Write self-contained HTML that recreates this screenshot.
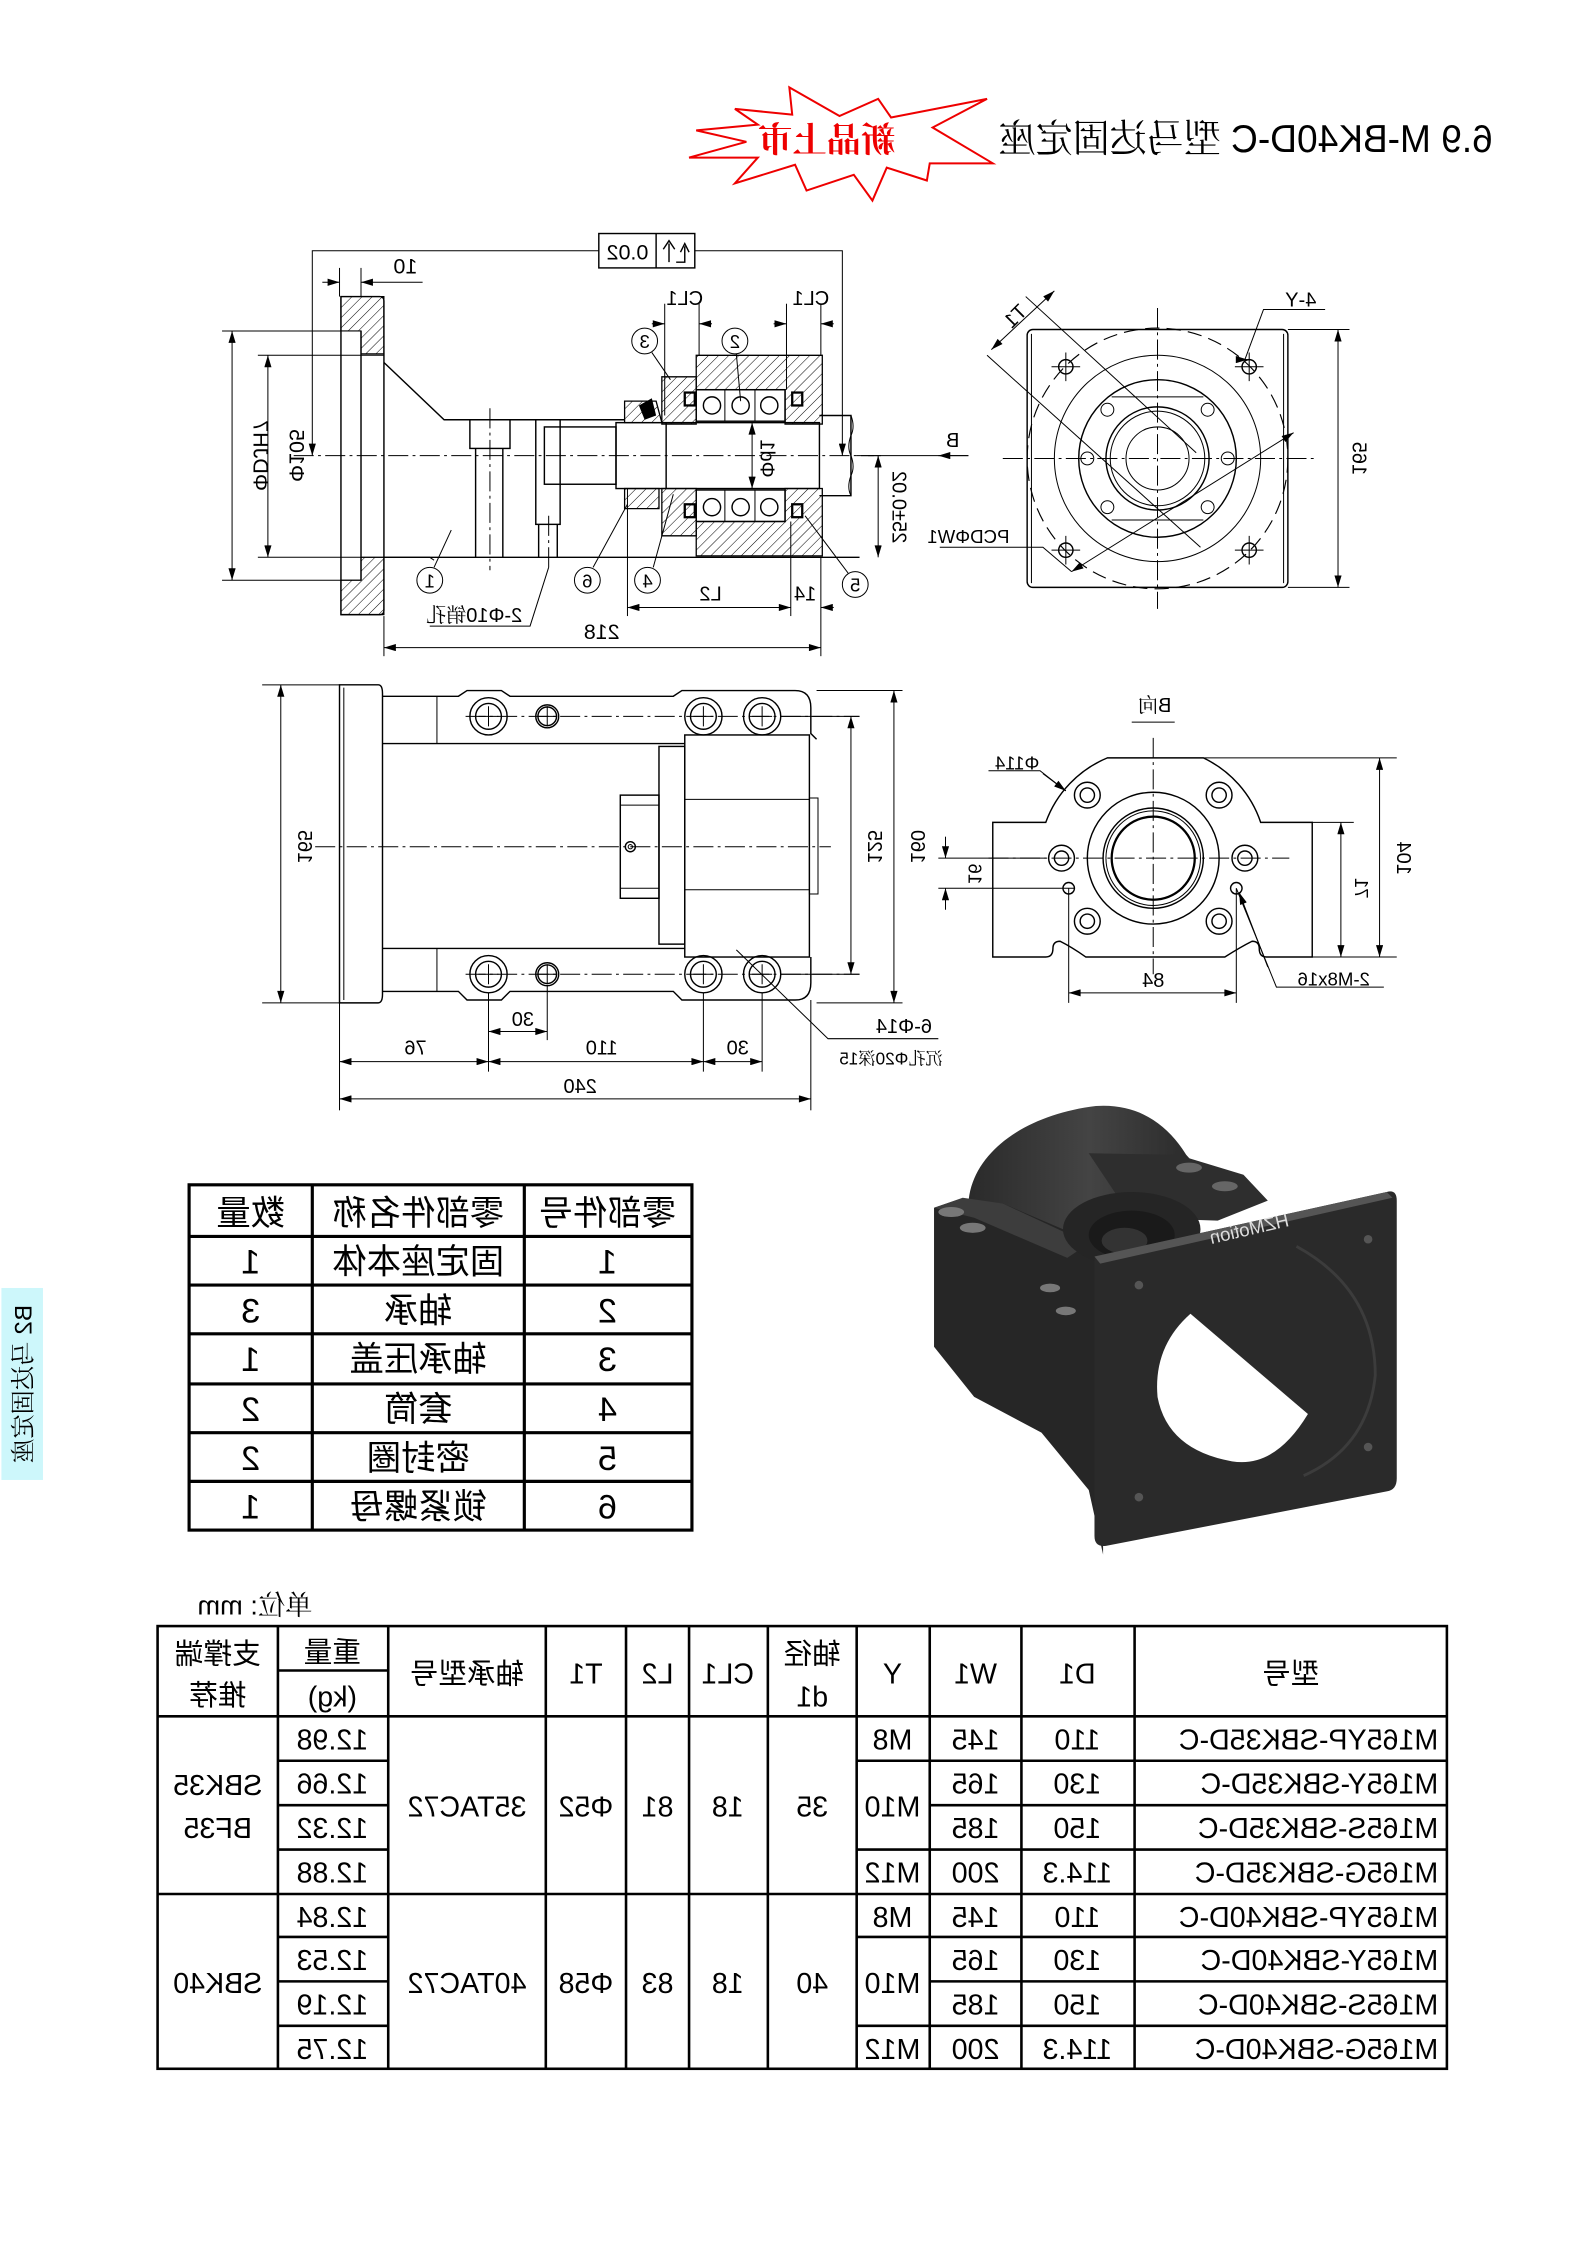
<!DOCTYPE html>
<html><head><meta charset="utf-8"><style>
html,body{margin:0;padding:0;background:#fff;}
svg{display:block;}
text{font-family:"Liberation Sans","Noto Sans CJK SC",sans-serif;fill:#000;text-anchor:middle;}
.cj{font-family:"Liberation Sans","Noto Serif CJK SC","Noto Sans CJK SC",sans-serif;}
.l{stroke:#000;stroke-width:1;fill:none;}
.t{stroke:#000;stroke-width:0.7;fill:none;}
.c{stroke:#000;stroke-width:0.7;fill:none;stroke-dasharray:14 3 2 3;}
.d{stroke:#000;stroke-width:0.8;fill:none;stroke-dasharray:10 5;}
.g{stroke:#000;stroke-width:1.6;fill:none;}
</style></head><body>
<svg width="1588" height="2245" viewBox="0 0 1108.5 1567" preserveAspectRatio="none" xmlns="http://www.w3.org/2000/svg">
<defs>
<pattern id="h" width="5" height="5" patternUnits="userSpaceOnUse" patternTransform="rotate(45)">
<line x1="0" y1="0" x2="0" y2="5" stroke="#000" stroke-width="0.7"/></pattern>
<marker id="a" viewBox="0 0 10 6" refX="10" refY="3" markerWidth="9" markerHeight="5" orient="auto-start-reverse" markerUnits="userSpaceOnUse"><path d="M0,0 L10,3 L0,6z" fill="#000"/></marker>
<linearGradient id="cy" x1="0" y1="0" x2="1" y2="0"><stop offset="0" stop-color="#2a2a2a"/><stop offset="0.5" stop-color="#444"/><stop offset="1" stop-color="#262626"/></linearGradient>
</defs>

<!-- title -->
<polygon points="551,61 586,81 613,69 622,82 689,69 651,89 693,114 649,114 647,126 619,117 609,140 596,122 563,133 555,115 513,128 529,110 481,110 521,99 486,91 529,87 513,76 553,80" fill="#fff" stroke="#e00" stroke-width="1.4"/>
<text class="cj" transform="translate(577,106) scale(-1,1)" font-size="24" style="fill:#e00" font-weight="bold">新品上市</text>
<text class="cj" transform="translate(1042,106) scale(-1,1)" font-size="27" style="text-anchor:start" textLength="345" lengthAdjust="spacingAndGlyphs">6.9 M-BK40D-C 型马达固定座</text>

<!-- side tab -->
<rect x="1" y="899" width="29" height="134" fill="#cdf7fb"/>
<text class="cj" transform="translate(22,966) rotate(90) scale(1,-1)" font-size="17">B2 马达固定座</text>

<!-- ========== TOP LEFT SECTION ========== -->
<rect x="418" y="163" width="67" height="24" class="l"/>
<line x1="458" y1="163" x2="458" y2="187" class="l"/>
<text transform="translate(438,181) scale(-1,1)" font-size="15">0.02</text>
<path d="M467,183 V170 M463,174 L467,168 L471,174 M472,183 H478 V172 M475,176 L478,170 L481,176" class="l"/>
<polyline points="418,175 218,175 218,318" class="t" marker-end="url(#a)"/>
<polyline points="485,175 588,175 588,318" class="t" marker-end="url(#a)"/>
<line x1="237" y1="187" x2="237" y2="207" class="t"/><line x1="252" y1="187" x2="252" y2="207" class="t"/>
<line x1="225" y1="197" x2="237" y2="197" class="t" marker-end="url(#a)"/>
<line x1="295" y1="197" x2="252" y2="197" class="t" marker-end="url(#a)"/>
<text transform="translate(283,191) scale(-1,1)" font-size="15">10</text>
<path d="M238,207 H265 Q268,207 268,210 V426 Q268,429 265,429 H238 Z" class="l"/>
<path d="M238,207 H268 V247 H252 V231 H238 Z" fill="url(#h)" stroke="#000" stroke-width="0.8"/>
<path d="M252,389 H268 V429 H238 V405 H252 Z" fill="url(#h)" stroke="#000" stroke-width="0.8"/>
<line x1="252" y1="231" x2="252" y2="405" class="l"/>
<line x1="155" y1="231" x2="252" y2="231" class="t"/><line x1="155" y1="405" x2="252" y2="405" class="t"/>
<line x1="180" y1="248" x2="268" y2="248" class="t"/><line x1="180" y1="389" x2="268" y2="389" class="t"/>
<line x1="162" y1="231" x2="162" y2="405" class="t" marker-start="url(#a)" marker-end="url(#a)"/>
<line x1="187" y1="248" x2="187" y2="389" class="t" marker-start="url(#a)" marker-end="url(#a)"/>
<text transform="translate(177,318) rotate(-90) scale(1,-1)" font-size="15">ΦDJH7</text>
<text transform="translate(202,318) rotate(-90) scale(1,-1)" font-size="15">Φ105</text>
<line x1="205" y1="318" x2="610" y2="318" class="c"/>
<polyline points="268,253 310,293 436,293" class="l"/>
<line x1="268" y1="389" x2="600" y2="389" class="l"/>
<polyline points="268,389 300,389 303,391" class="t"/>
<rect x="328" y="293" width="28" height="20" class="l"/>
<line x1="332" y1="313" x2="332" y2="389" class="l"/><line x1="351" y1="313" x2="351" y2="389" class="l"/>
<line x1="342" y1="285" x2="342" y2="398" class="c"/>
<rect x="374" y="293" width="17" height="73" class="l"/>
<line x1="376" y1="366" x2="376" y2="389" class="l"/><line x1="389" y1="366" x2="389" y2="389" class="l"/>
<line x1="383" y1="360" x2="383" y2="396" class="c"/>
<rect x="380" y="298" width="50" height="40" class="l"/>
<rect x="430" y="295" width="142" height="46" class="l"/>
<line x1="465" y1="295" x2="465" y2="341" class="l"/>
<path d="M572,290 H594 V346 H572" class="l"/>
<path d="M594,290 q3,8 0,14 q-3,8 0,14 q3,8 0,14 q-3,8 0,14" class="t"/>
<path d="M486,248 H574 V296 H548 V272 H486 Z" fill="url(#h)" stroke="#000" stroke-width="0.9"/>
<path d="M462,263 H486 V296 H462 Z" fill="url(#h)" stroke="#000" stroke-width="0.9"/>
<path d="M436,280 L458,280 L462,295 L436,295 Z" fill="url(#h)" stroke="#000" stroke-width="0.9"/>
<rect x="486" y="272" width="62" height="22" class="l"/>
<line x1="506" y1="272" x2="506" y2="294" class="t"/><line x1="527" y1="272" x2="527" y2="294" class="t"/>
<circle cx="497" cy="283" r="6" class="l"/><circle cx="517" cy="283" r="6" class="l"/><circle cx="537" cy="283" r="6" class="l"/>
<rect x="478" y="274" width="7" height="9" class="g"/><rect x="553" y="274" width="7" height="9" class="g"/>
<path d="M446,283 L455,278 L458,290 L450,293 Z" fill="#000"/>
<path d="M486,388 H574 V341 H548 V364 H486 Z" fill="url(#h)" stroke="#000" stroke-width="0.9"/>
<path d="M462,341 H486 V374 H462 Z" fill="url(#h)" stroke="#000" stroke-width="0.9"/>
<path d="M436,341 H460 V355 H436 Z" fill="url(#h)" stroke="#000" stroke-width="0.9"/>
<rect x="486" y="342" width="62" height="22" class="l"/>
<line x1="506" y1="342" x2="506" y2="364" class="t"/><line x1="527" y1="342" x2="527" y2="364" class="t"/>
<circle cx="497" cy="354" r="6" class="l"/><circle cx="517" cy="354" r="6" class="l"/><circle cx="537" cy="354" r="6" class="l"/>
<rect x="478" y="352" width="7" height="9" class="g"/><rect x="553" y="352" width="7" height="9" class="g"/>
<line x1="525" y1="295" x2="525" y2="341" class="t" marker-start="url(#a)" marker-end="url(#a)"/>
<text transform="translate(531,320) rotate(-90) scale(1,-1)" font-size="14">Φd1</text>
<line x1="464" y1="212" x2="464" y2="290" class="t"/><line x1="488" y1="212" x2="488" y2="248" class="t"/>
<line x1="455" y1="226" x2="464" y2="226" class="t" marker-end="url(#a)"/><line x1="497" y1="226" x2="488" y2="226" class="t" marker-end="url(#a)"/>
<text transform="translate(478,213) scale(-1,1)" font-size="14">CL1</text>
<line x1="549" y1="212" x2="549" y2="272" class="t"/><line x1="573" y1="212" x2="573" y2="248" class="t"/>
<line x1="540" y1="226" x2="549" y2="226" class="t" marker-end="url(#a)"/><line x1="582" y1="226" x2="573" y2="226" class="t" marker-end="url(#a)"/>
<text transform="translate(566,213) scale(-1,1)" font-size="14">CL1</text>
<g class="t">
<circle cx="450" cy="238" r="9"/><circle cx="513" cy="238" r="9"/>
<circle cx="300" cy="405" r="9"/><circle cx="410" cy="405" r="9"/><circle cx="452" cy="405" r="9"/><circle cx="597" cy="408" r="9"/>
<line x1="455" y1="246" x2="468" y2="265"/><line x1="514" y1="247" x2="517" y2="280"/>
<line x1="303" y1="396" x2="315" y2="370"/><line x1="414" y1="396" x2="438" y2="352"/>
<line x1="456" y1="396" x2="470" y2="345"/><line x1="592" y1="400" x2="562" y2="360"/>
<polyline points="383,396 370,437 300,437"/>
</g>
<g font-size="13">
<text transform="translate(450,243) scale(-1,1)">3</text><text transform="translate(513,243) scale(-1,1)">2</text>
<text transform="translate(300,410) scale(-1,1)">1</text><text transform="translate(410,410) scale(-1,1)">6</text>
<text transform="translate(452,410) scale(-1,1)">4</text><text transform="translate(597,413) scale(-1,1)">5</text>
</g>
<text class="cj" transform="translate(331,434) scale(-1,1)" font-size="14">2-Φ10销孔</text>
<line x1="268" y1="430" x2="268" y2="458" class="t"/><line x1="573" y1="389" x2="573" y2="458" class="t"/>
<line x1="268" y1="452" x2="573" y2="452" class="t" marker-start="url(#a)" marker-end="url(#a)"/>
<text transform="translate(420,446) scale(-1,1)" font-size="15">218</text>
<line x1="438" y1="341" x2="438" y2="430" class="t"/><line x1="552" y1="364" x2="552" y2="430" class="t"/>
<line x1="438" y1="424" x2="552" y2="424" class="t" marker-start="url(#a)" marker-end="url(#a)"/>
<line x1="582" y1="424" x2="573" y2="424" class="t" marker-end="url(#a)"/>
<text transform="translate(496,419) scale(-1,1)" font-size="14">L2</text>
<text transform="translate(562,419) scale(-1,1)" font-size="14">14</text>
<line x1="598" y1="318" x2="615" y2="318" class="t"/>
<line x1="613" y1="318" x2="613" y2="389" class="t" marker-start="url(#a)" marker-end="url(#a)"/>
<text transform="translate(623,354) rotate(-90) scale(1,-1)" font-size="14">25±0.02</text>
<line x1="606" y1="318" x2="676" y2="318" class="t"/>
<line x1="676" y1="318" x2="655" y2="318" class="t" marker-end="url(#a)"/>
<text transform="translate(665,312) scale(-1,1)" font-size="14">B</text>

<!-- ========== TOP RIGHT VIEW ========== -->
<rect x="717" y="230" width="182" height="180" rx="4" class="l"/>
<line x1="720" y1="233" x2="720" y2="407" class="t"/><line x1="896" y1="233" x2="896" y2="407" class="t"/>
<line x1="700" y1="320" x2="920" y2="320" class="c"/><line x1="808" y1="215" x2="808" y2="425" class="c"/>
<circle cx="808" cy="320" r="91" class="d"/>
<circle cx="808" cy="320" r="72" class="t"/>
<circle cx="808" cy="320" r="55" class="l"/>
<circle cx="808" cy="320" r="36" class="l"/>
<circle cx="808" cy="320" r="33" class="t"/>
<circle cx="808" cy="320" r="22" class="t"/>
<line x1="776" y1="277" x2="840" y2="277" class="t"/><line x1="776" y1="363" x2="840" y2="363" class="t"/>
<circle cx="773" cy="286" r="4.5" class="t"/><circle cx="843" cy="286" r="4.5" class="t"/>
<circle cx="773" cy="354" r="4.5" class="t"/><circle cx="843" cy="354" r="4.5" class="t"/>
<circle cx="759" cy="320" r="4.5" class="t"/><circle cx="857" cy="320" r="4.5" class="t"/>
<g class="l">
<circle cx="744" cy="256" r="5"/><circle cx="872" cy="256" r="5"/><circle cx="744" cy="384" r="5"/><circle cx="872" cy="384" r="5"/>
</g>
<g class="t">
<path d="M734,256 h20 M744,246 v20 M862,256 h20 M872,246 v20 M734,384 h20 M744,374 v20 M862,384 h20 M872,374 v20"/>
<line x1="689" y1="248" x2="838" y2="382"/>
<line x1="716" y1="207" x2="835" y2="316"/>
<line x1="692" y1="244" x2="736" y2="203" marker-start="url(#a)" marker-end="url(#a)"/>
<line x1="748" y1="399" x2="903" y2="302" marker-start="url(#a)" marker-end="url(#a)"/>
<polyline points="656,382 728,382 748,399"/>
<polyline points="925,216 882,216 869,251" />
<line x1="899" y1="230" x2="942" y2="230"/><line x1="899" y1="410" x2="942" y2="410"/>
<line x1="934" y1="230" x2="934" y2="410" marker-start="url(#a)" marker-end="url(#a)"/>
</g>
<line x1="869" y1="251" x2="871" y2="251" class="t" marker-end="url(#a)"/>
<text transform="translate(908,214) scale(-1,1)" font-size="14">4-Y</text>
<text transform="translate(712,224) rotate(-45) scale(-1,1)" font-size="14">T1</text>
<text transform="translate(676,379) scale(-1,1)" font-size="13">PCDΦW1</text>
<text transform="translate(944,320) rotate(-90) scale(1,-1)" font-size="14">165</text>

<!-- ========== MIDDLE LEFT VIEW ========== -->
<path d="M237,478 H264 Q267,478 267,484 V694 Q267,700 264,700 H237 Z" class="l"/>
<line x1="240" y1="480" x2="240" y2="698" class="t"/>
<path d="M267,486 H320 L326,482 H350 L356,486 H470 L476,482 H555 Q566,482 566,494 V512 L570,516" class="l"/>
<path d="M267,692 H320 L326,698 H350 L356,692 H470 L476,698 H555 Q566,698 566,686 V668" class="l"/>
<line x1="267" y1="519" x2="478" y2="519" class="l"/><line x1="267" y1="662" x2="478" y2="662" class="l"/>
<line x1="305" y1="486" x2="305" y2="519" class="t"/><line x1="305" y1="662" x2="305" y2="692" class="t"/>
<rect x="460" y="521" width="18" height="138" class="l"/>
<rect x="478" y="513" width="87" height="155" class="l"/>
<line x1="478" y1="558" x2="565" y2="558" class="t"/><line x1="478" y1="621" x2="565" y2="621" class="t"/>
<rect x="565" y="557" width="6" height="67" class="t"/>
<rect x="433" y="555" width="27" height="72" class="l"/>
<line x1="433" y1="562" x2="460" y2="562" class="t"/><line x1="433" y1="620" x2="460" y2="620" class="t"/>
<circle cx="440" cy="591" r="3.5" class="l"/><circle cx="440" cy="591" r="1.5" class="t"/>
<line x1="220" y1="591" x2="580" y2="591" class="c"/>
<line x1="325" y1="500" x2="600" y2="500" class="c"/><line x1="325" y1="680" x2="600" y2="680" class="c"/>
<g class="l">
<circle cx="341" cy="500" r="13"/><circle cx="341" cy="500" r="9"/><circle cx="382" cy="500" r="8"/><circle cx="382" cy="500" r="6.5"/>
<circle cx="491" cy="500" r="13"/><circle cx="491" cy="500" r="9"/><circle cx="532" cy="500" r="13"/><circle cx="532" cy="500" r="9"/>
<circle cx="341" cy="680" r="13"/><circle cx="341" cy="680" r="9"/><circle cx="382" cy="680" r="8"/><circle cx="382" cy="680" r="6.5"/>
<circle cx="491" cy="680" r="13"/><circle cx="491" cy="680" r="9"/><circle cx="532" cy="680" r="13"/><circle cx="532" cy="680" r="9"/>
</g>
<path class="t" d="M334,500h14M341,493v14M375,500h14M382,493v14M484,500h14M491,493v14M525,500h14M532,493v14M334,680h14M341,673v14M375,680h14M382,673v14M484,680h14M491,673v14M525,680h14M532,673v14"/>
<g class="t">
<line x1="183" y1="478" x2="237" y2="478"/><line x1="183" y1="700" x2="237" y2="700"/>
<line x1="196" y1="478" x2="196" y2="700" marker-start="url(#a)" marker-end="url(#a)"/>
<line x1="545" y1="500" x2="600" y2="500"/><line x1="545" y1="680" x2="600" y2="680"/>
<line x1="594" y1="500" x2="594" y2="680" marker-start="url(#a)" marker-end="url(#a)"/>
<line x1="570" y1="482" x2="630" y2="482"/><line x1="570" y1="700" x2="630" y2="700"/>
<line x1="624" y1="482" x2="624" y2="700" marker-start="url(#a)" marker-end="url(#a)"/>
<line x1="237" y1="700" x2="237" y2="775"/><line x1="341" y1="693" x2="341" y2="748"/>
<line x1="382" y1="688" x2="382" y2="726"/><line x1="491" y1="693" x2="491" y2="748"/>
<line x1="532" y1="693" x2="532" y2="748"/><line x1="566" y1="698" x2="566" y2="775"/>
<line x1="341" y1="720" x2="382" y2="720" marker-start="url(#a)" marker-end="url(#a)"/>
<line x1="237" y1="741" x2="341" y2="741" marker-start="url(#a)" marker-end="url(#a)"/>
<line x1="341" y1="741" x2="491" y2="741" marker-start="url(#a)" marker-end="url(#a)"/>
<line x1="491" y1="741" x2="532" y2="741" marker-start="url(#a)" marker-end="url(#a)"/>
<line x1="237" y1="767" x2="566" y2="767" marker-start="url(#a)" marker-end="url(#a)"/>
<polyline points="514,663 578,725 655,725"/>
</g>
<text transform="translate(208,591) rotate(-90) scale(1,-1)" font-size="14">165</text>
<text transform="translate(606,591) rotate(-90) scale(1,-1)" font-size="14">125</text>
<text transform="translate(636,591) rotate(-90) scale(1,-1)" font-size="14">160</text>
<text transform="translate(365,716) scale(-1,1)" font-size="14">30</text>
<text transform="translate(290,736) scale(-1,1)" font-size="14">76</text>
<text transform="translate(420,736) scale(-1,1)" font-size="14">110</text>
<text transform="translate(515,736) scale(-1,1)" font-size="14">30</text>
<text transform="translate(405,763) scale(-1,1)" font-size="14">240</text>
<text transform="translate(631,721) scale(-1,1)" font-size="14">6-Φ14</text>
<text class="cj" transform="translate(622,743) scale(-1,1)" font-size="12">沉孔Φ20深15</text>

<!-- ========== B VIEW ========== -->
<text class="cj" transform="translate(806,497) scale(-1,1)" font-size="14">B向</text>
<line x1="790" y1="504" x2="820" y2="504" class="t"/>
<path d="M773,529 H840 A77,77 0 0 1 880,574 H916 V668 H884 Q879,668 879,662 Q879,657 874,657 Q866,661 855,668 H758 Q748,661 740,657 Q735,657 735,662 Q735,668 730,668 H693 V574 H730 A77,77 0 0 1 773,529 Z" class="l"/>
<line x1="805" y1="515" x2="805" y2="680" class="c"/><line x1="690" y1="599" x2="900" y2="599" class="c"/>
<circle cx="805" cy="599" r="46" class="l"/><circle cx="805" cy="599" r="35" class="l"/><circle cx="805" cy="599" r="33" class="t"/><circle cx="805" cy="599" r="29" class="g"/>
<g class="l">
<circle cx="759" cy="555" r="9"/><circle cx="759" cy="555" r="5"/><circle cx="851" cy="555" r="9"/><circle cx="851" cy="555" r="5"/>
<circle cx="741" cy="599" r="9"/><circle cx="741" cy="599" r="5"/><circle cx="869" cy="599" r="9"/><circle cx="869" cy="599" r="5"/>
<circle cx="759" cy="643" r="9"/><circle cx="759" cy="643" r="5"/><circle cx="851" cy="643" r="9"/><circle cx="851" cy="643" r="5"/>
<circle cx="746" cy="620" r="4"/><circle cx="863" cy="620" r="4"/>
</g>
<g class="t">
<line x1="655" y1="599" x2="730" y2="599"/><line x1="655" y1="620" x2="750" y2="620"/>
<line x1="660" y1="584" x2="660" y2="599" marker-end="url(#a)"/><line x1="660" y1="635" x2="660" y2="620" marker-end="url(#a)"/>
<line x1="746" y1="620" x2="746" y2="700"/><line x1="863" y1="620" x2="863" y2="700"/>
<line x1="746" y1="693" x2="863" y2="693" marker-start="url(#a)" marker-end="url(#a)"/>
<line x1="916" y1="574" x2="945" y2="574"/><line x1="916" y1="668" x2="975" y2="668"/>
<line x1="840" y1="529" x2="975" y2="529"/>
<line x1="936" y1="574" x2="936" y2="668" marker-start="url(#a)" marker-end="url(#a)"/>
<line x1="963" y1="529" x2="963" y2="668" marker-start="url(#a)" marker-end="url(#a)"/>
<polyline points="966,689 891,689 863,620"/>
<polyline points="690,538 726,538 744,552"/>
</g>
<line x1="885" y1="675" x2="865" y2="623" class="t" marker-end="url(#a)"/>
<line x1="728" y1="540" x2="744" y2="552" class="t" marker-end="url(#a)"/>
<text transform="translate(676,610) rotate(-90) scale(1,-1)" font-size="13">16</text>
<text transform="translate(805,689) scale(-1,1)" font-size="14">84</text>
<text transform="translate(946,620) rotate(-90) scale(1,-1)" font-size="13">71</text>
<text transform="translate(975,599) rotate(-90) scale(1,-1)" font-size="14">104</text>
<text transform="translate(931,688) scale(-1,1)" font-size="13">2-M8x16</text>
<text transform="translate(710,537) scale(-1,1)" font-size="13">Φ114</text>

<!-- ========== 3D RENDER ========== -->
<path d="M676,840 C678,805 715,778 765,772 C795,770 815,785 828,806 L845,825 L800,862 L720,865 Z" fill="url(#cy)"/>
<path d="M760,805 L822,806 L868,820 L885,838 L850,852 L790,850 Z" fill="#2e2e2e"/>
<ellipse cx="830" cy="815" rx="9" ry="3.5" fill="#666"/><ellipse cx="855" cy="828" rx="9" ry="3.5" fill="#666"/>
<path d="M652,843 L670,837 L700,840 L770,870 L770,1085 L760,1040 L727,1000 L680,975 L652,940 Z" fill="#262626"/>
<path d="M652,843 L672,836 L700,840 L760,868 L745,878 L680,850 Z" fill="#3d3d3d"/>
<ellipse cx="664" cy="846" rx="9" ry="3.5" fill="#777"/><ellipse cx="679" cy="857" rx="9" ry="3.5" fill="#777"/>
<ellipse cx="733" cy="899" rx="7" ry="3" fill="#777"/><ellipse cx="744" cy="915" rx="7" ry="3" fill="#777"/>
<ellipse cx="790" cy="858" rx="48" ry="26" fill="#252525"/>
<ellipse cx="790" cy="862" rx="30" ry="17" fill="#1a1a1a"/>
<ellipse cx="785" cy="866" rx="16" ry="9" fill="#333"/>
<path d="M764,877 L968,832 Q975,830 975,838 L975,1032 Q975,1040 968,1041 L772,1079 Q764,1080 764,1072 Z" fill="#2a2a2a"/>
<path d="M764,877 L968,832 L972,836 L768,882 Z" fill="#555"/>
<path d="M831,917 L913,987 Q890,1025 860,1020 Q815,1012 808,975 Q805,940 831,917 Z" fill="#fff"/>
<path d="M905,870 Q960,900 960,960 Q955,1010 910,1030" fill="none" stroke="#3c3c3c" stroke-width="2"/>
<circle cx="795" cy="897" r="3" fill="#555"/><circle cx="955" cy="865" r="3" fill="#555"/>
<circle cx="955" cy="1010" r="3" fill="#555"/><circle cx="795" cy="1045" r="3" fill="#555"/>
<text transform="translate(873,862) rotate(-13) scale(-1,1)" font-size="13" style="fill:#ddd">HZMotion</text>

<!-- ========== PARTS TABLE ========== -->
<g stroke="#000" stroke-width="2.2" fill="none">
<rect x="132" y="827" width="351" height="241"/>
<line x1="218" y1="827" x2="218" y2="1068"/><line x1="366" y1="827" x2="366" y2="1068"/>
<line x1="132" y1="863" x2="483" y2="863"/><line x1="132" y1="897" x2="483" y2="897"/><line x1="132" y1="931" x2="483" y2="931"/>
<line x1="132" y1="966" x2="483" y2="966"/><line x1="132" y1="1000" x2="483" y2="1000"/><line x1="132" y1="1034" x2="483" y2="1034"/>
</g>
<g class="cj" font-size="24">
<text transform="translate(175,855) scale(-1,1)">数量</text>
<text transform="translate(292,855) scale(-1,1)">零部件名称</text>
<text transform="translate(424,855) scale(-1,1)">零部件号</text>
<text transform="translate(292,889) scale(-1,1)">固定座本体</text>
<text transform="translate(292,923) scale(-1,1)">轴承</text>
<text transform="translate(292,957) scale(-1,1)">轴承压盖</text>
<text transform="translate(292,992) scale(-1,1)">套筒</text>
<text transform="translate(292,1026) scale(-1,1)">密封圈</text>
<text transform="translate(292,1060) scale(-1,1)">锁紧螺母</text>
</g>
<g font-size="24">
<text transform="translate(175,889) scale(-1,1)">1</text><text transform="translate(175,923) scale(-1,1)">3</text>
<text transform="translate(175,957) scale(-1,1)">1</text><text transform="translate(175,992) scale(-1,1)">2</text>
<text transform="translate(175,1026) scale(-1,1)">2</text><text transform="translate(175,1060) scale(-1,1)">1</text>
<text transform="translate(424,889) scale(-1,1)">1</text><text transform="translate(424,923) scale(-1,1)">2</text>
<text transform="translate(424,957) scale(-1,1)">3</text><text transform="translate(424,992) scale(-1,1)">4</text>
<text transform="translate(424,1026) scale(-1,1)">5</text><text transform="translate(424,1060) scale(-1,1)">6</text>
</g>

<!-- ========== SPEC TABLE ========== -->
<text class="cj" transform="translate(218,1127) scale(-1,1)" font-size="19" style="text-anchor:start">单位: mm</text>
<g stroke="#000" stroke-width="1.8" fill="none">
<rect x="110" y="1135" width="900" height="309"/>
<line x1="194" y1="1135" x2="194" y2="1444"/><line x1="271" y1="1135" x2="271" y2="1444"/>
<line x1="381" y1="1135" x2="381" y2="1444"/><line x1="437" y1="1135" x2="437" y2="1444"/>
<line x1="481" y1="1135" x2="481" y2="1444"/><line x1="536" y1="1135" x2="536" y2="1444"/>
<line x1="598" y1="1135" x2="598" y2="1444"/><line x1="649" y1="1135" x2="649" y2="1444"/>
<line x1="713" y1="1135" x2="713" y2="1444"/><line x1="792" y1="1135" x2="792" y2="1444"/>
<line x1="194" y1="1166" x2="271" y2="1166"/>
<line x1="110" y1="1198" x2="1010" y2="1198"/>
<line x1="110" y1="1322" x2="1010" y2="1322"/>
<line x1="598" y1="1229" x2="1010" y2="1229"/><line x1="649" y1="1260" x2="1010" y2="1260"/><line x1="598" y1="1291" x2="1010" y2="1291"/>
<line x1="598" y1="1352" x2="1010" y2="1352"/><line x1="649" y1="1383" x2="1010" y2="1383"/><line x1="598" y1="1414" x2="1010" y2="1414"/>
<line x1="194" y1="1229" x2="271" y2="1229"/><line x1="194" y1="1260" x2="271" y2="1260"/><line x1="194" y1="1291" x2="271" y2="1291"/>
<line x1="194" y1="1352" x2="271" y2="1352"/><line x1="194" y1="1383" x2="271" y2="1383"/><line x1="194" y1="1414" x2="271" y2="1414"/>
</g>
<g class="cj" font-size="20">
<text transform="translate(152,1161) scale(-1,1)">支撑端</text>
<text transform="translate(152,1190) scale(-1,1)">推荐</text>
<text transform="translate(232,1160) scale(-1,1)">重量</text>
<text transform="translate(326,1175) scale(-1,1)">轴承型号</text>
<text transform="translate(567,1161) scale(-1,1)">轴径</text>
<text transform="translate(901,1175) scale(-1,1)">型号</text>
</g>
<g font-size="20">
<text transform="translate(232,1191) scale(-1,1)">(kg)</text>
<text transform="translate(409,1175) scale(-1,1)">T1</text>
<text transform="translate(459,1175) scale(-1,1)">L2</text>
<text transform="translate(508,1175) scale(-1,1)">CL1</text>
<text transform="translate(567,1191) scale(-1,1)">d1</text>
<text transform="translate(623,1175) scale(-1,1)">Y</text>
<text transform="translate(681,1175) scale(-1,1)">W1</text>
<text transform="translate(752,1175) scale(-1,1)">D1</text>
</g>
<g font-size="20">
<text transform="translate(1004,1221) scale(-1,1)" style="text-anchor:start">M165YP-SBK35D-C</text>
<text transform="translate(1004,1252) scale(-1,1)" style="text-anchor:start">M165Y-SBK35D-C</text>
<text transform="translate(1004,1283) scale(-1,1)" style="text-anchor:start">M165S-SBK35D-C</text>
<text transform="translate(1004,1314) scale(-1,1)" style="text-anchor:start">M165G-SBK35D-C</text>
<text transform="translate(1004,1345) scale(-1,1)" style="text-anchor:start">M165YP-SBK40D-C</text>
<text transform="translate(1004,1375) scale(-1,1)" style="text-anchor:start">M165Y-SBK40D-C</text>
<text transform="translate(1004,1406) scale(-1,1)" style="text-anchor:start">M165S-SBK40D-C</text>
<text transform="translate(1004,1437) scale(-1,1)" style="text-anchor:start">M165G-SBK40D-C</text>
<text transform="translate(752,1221) scale(-1,1)">110</text><text transform="translate(752,1252) scale(-1,1)">130</text>
<text transform="translate(752,1283) scale(-1,1)">150</text><text transform="translate(752,1314) scale(-1,1)">114.3</text>
<text transform="translate(752,1345) scale(-1,1)">110</text><text transform="translate(752,1375) scale(-1,1)">130</text>
<text transform="translate(752,1406) scale(-1,1)">150</text><text transform="translate(752,1437) scale(-1,1)">114.3</text>
<text transform="translate(681,1221) scale(-1,1)">145</text><text transform="translate(681,1252) scale(-1,1)">165</text>
<text transform="translate(681,1283) scale(-1,1)">185</text><text transform="translate(681,1314) scale(-1,1)">200</text>
<text transform="translate(681,1345) scale(-1,1)">145</text><text transform="translate(681,1375) scale(-1,1)">165</text>
<text transform="translate(681,1406) scale(-1,1)">185</text><text transform="translate(681,1437) scale(-1,1)">200</text>
<text transform="translate(623,1221) scale(-1,1)">M8</text><text transform="translate(623,1268) scale(-1,1)">M10</text>
<text transform="translate(623,1314) scale(-1,1)">M12</text>
<text transform="translate(623,1345) scale(-1,1)">M8</text><text transform="translate(623,1391) scale(-1,1)">M10</text>
<text transform="translate(623,1437) scale(-1,1)">M12</text>
<text transform="translate(567,1268) scale(-1,1)">35</text><text transform="translate(567,1391) scale(-1,1)">40</text>
<text transform="translate(508,1268) scale(-1,1)">18</text><text transform="translate(508,1391) scale(-1,1)">18</text>
<text transform="translate(459,1268) scale(-1,1)">81</text><text transform="translate(459,1391) scale(-1,1)">83</text>
<text transform="translate(409,1268) scale(-1,1)">Φ52</text><text transform="translate(409,1391) scale(-1,1)">Φ58</text>
<text transform="translate(326,1268) scale(-1,1)">35TAC72</text><text transform="translate(326,1391) scale(-1,1)">40TAC72</text>
<text transform="translate(232,1221) scale(-1,1)">12.98</text><text transform="translate(232,1252) scale(-1,1)">12.66</text>
<text transform="translate(232,1283) scale(-1,1)">12.32</text><text transform="translate(232,1314) scale(-1,1)">12.88</text>
<text transform="translate(232,1345) scale(-1,1)">12.84</text><text transform="translate(232,1375) scale(-1,1)">12.53</text>
<text transform="translate(232,1406) scale(-1,1)">12.19</text><text transform="translate(232,1437) scale(-1,1)">12.75</text>
<text transform="translate(152,1253) scale(-1,1)">SBK35</text><text transform="translate(152,1283) scale(-1,1)">BF35</text>
<text transform="translate(152,1391) scale(-1,1)">SBK40</text>
</g>
</svg>
</body></html>
